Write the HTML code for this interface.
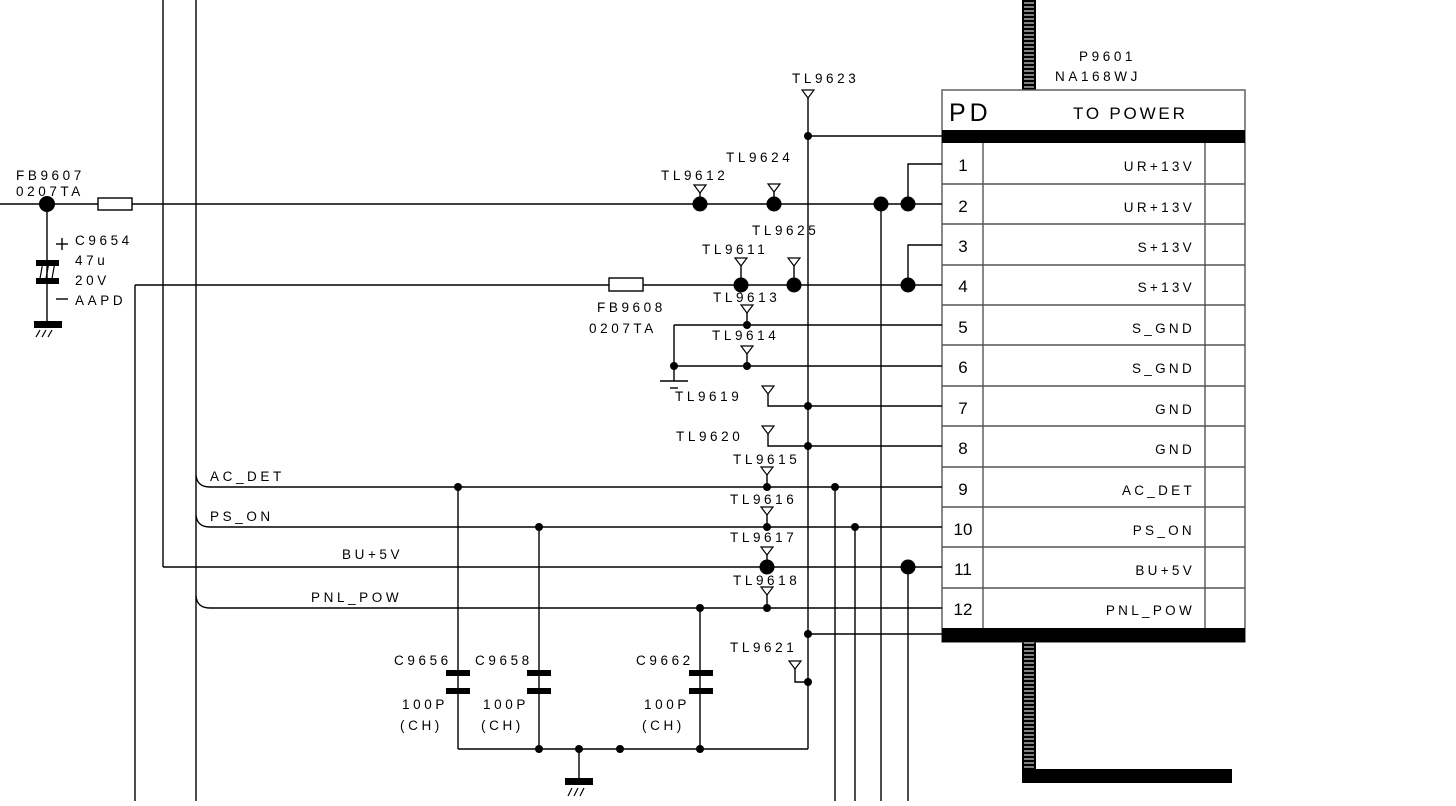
<!DOCTYPE html>
<html><head><meta charset="utf-8"><style>
html,body{margin:0;padding:0;background:#fff;}
svg text{font-family:"Liberation Sans",sans-serif;fill:#000;}
</style></head><body>
<svg width="1456" height="801" viewBox="0 0 1456 801" xmlns="http://www.w3.org/2000/svg">
<defs>
<pattern id="st" width="14" height="4" patternUnits="userSpaceOnUse">
<rect width="14" height="4" fill="#000"/><rect x="2" y="2.5" width="10" height="1" fill="#fff"/>
</pattern>
<g id="tp"><path d="M-6,0 L6,0 L0,8 Z" fill="#fff" stroke="#000" stroke-width="1.2"/></g>
</defs>
<g stroke="#000" stroke-width="1.4" fill="none">
<rect x="1022" y="0" width="14" height="90" fill="url(#st)" stroke="none"/>
<rect x="1022" y="642" width="14" height="140" fill="url(#st)" stroke="none"/>
<rect x="1022" y="769" width="210" height="14" fill="#000" stroke="none"/>
<rect x="942" y="90" width="303" height="552" fill="#fff" stroke="#555"/>
<rect x="942" y="130" width="303" height="13" fill="#000" stroke="none"/>
<rect x="942" y="628" width="303" height="14" fill="#000" stroke="none"/>
<g stroke="#555">
<line x1="983" y1="143" x2="983" y2="628"/>
<line x1="1205" y1="143" x2="1205" y2="628"/>
<line x1="942" y1="184" x2="1245" y2="184"/>
<line x1="942" y1="224" x2="1245" y2="224"/>
<line x1="942" y1="265" x2="1245" y2="265"/>
<line x1="942" y1="305" x2="1245" y2="305"/>
<line x1="942" y1="345" x2="1245" y2="345"/>
<line x1="942" y1="386" x2="1245" y2="386"/>
<line x1="942" y1="426" x2="1245" y2="426"/>
<line x1="942" y1="467" x2="1245" y2="467"/>
<line x1="942" y1="507" x2="1245" y2="507"/>
<line x1="942" y1="547" x2="1245" y2="547"/>
<line x1="942" y1="588" x2="1245" y2="588"/>
</g>
<line x1="0" y1="204" x2="942" y2="204"/>
<line x1="135" y1="285" x2="942" y2="285"/>
<line x1="135" y1="285" x2="135" y2="801"/>
<line x1="163" y1="0" x2="163" y2="567"/>
<line x1="163" y1="567" x2="942" y2="567"/>
<line x1="196" y1="0" x2="196" y2="801"/>
<path d="M196,475 Q197,487 210,487 L942,487"/>
<path d="M196,515 Q197,527 210,527 L942,527"/>
<path d="M196,596 Q197,608 210,608 L942,608"/>
<line x1="808" y1="95" x2="808" y2="749"/>
<line x1="808" y1="136" x2="942" y2="136"/>
<line x1="808" y1="634" x2="942" y2="634"/>
<line x1="835" y1="487" x2="835" y2="801"/>
<line x1="855" y1="527" x2="855" y2="801"/>
<line x1="881" y1="204" x2="881" y2="801"/>
<line x1="908" y1="567" x2="908" y2="801"/>
<path d="M908,204 L908,164 L942,164"/>
<path d="M908,285 L908,245 L942,245"/>
<line x1="674" y1="325" x2="942" y2="325"/>
<line x1="674" y1="366" x2="942" y2="366"/>
<line x1="674" y1="325" x2="674" y2="381"/>
<line x1="660" y1="381" x2="688" y2="381"/>
<line x1="670" y1="388" x2="678" y2="388"/>
<line x1="808" y1="406" x2="942" y2="406"/>
<line x1="808" y1="446" x2="942" y2="446"/>
<path d="M768,394 L768,406 L808,406"/>
<path d="M768,434 L768,446 L808,446"/>
<path d="M795,668 L795,682 L808,682"/>
<line x1="700" y1="190" x2="700" y2="204"/>
<line x1="774" y1="190" x2="774" y2="204"/>
<line x1="741" y1="262" x2="741" y2="285"/>
<line x1="794" y1="262" x2="794" y2="285"/>
<line x1="747" y1="310" x2="747" y2="325"/>
<line x1="747" y1="350" x2="747" y2="366"/>
<line x1="767" y1="472" x2="767" y2="487"/>
<line x1="767" y1="512" x2="767" y2="527"/>
<line x1="767" y1="552" x2="767" y2="567"/>
<line x1="767" y1="592" x2="767" y2="608"/>
<rect x="98" y="198" width="34" height="12" fill="#fff"/>
<rect x="609" y="278" width="34" height="13" fill="#fff"/>
<line x1="47" y1="204" x2="47" y2="325"/>
<line x1="56" y1="244" x2="68" y2="244"/><line x1="62" y1="238" x2="62" y2="250"/>
<line x1="56" y1="299" x2="68" y2="299"/>
<path d="M39,284 L43,262 M45,284 L49,262 M51,284 L55,262" stroke-width="1.2"/>
<path d="M36,337 L40,330 M42,337 L46,330 M48,337 L52,330" stroke-width="1.2"/>
<line x1="458" y1="487" x2="458" y2="749"/>
<line x1="539" y1="527" x2="539" y2="749"/>
<line x1="700" y1="608" x2="700" y2="749"/>
<line x1="458" y1="749" x2="808" y2="749"/>
<line x1="579" y1="749" x2="579" y2="779"/>
<path d="M568,796 L572,788 M574,796 L578,788 M580,796 L584,788" stroke-width="1.2"/>
</g>
<g fill="#000">
<rect x="36" y="260" width="23" height="6"/><rect x="36" y="278" width="23" height="6"/>
<rect x="34" y="321" width="28" height="7"/>
<rect x="446" y="670" width="24" height="6"/><rect x="446" y="688" width="24" height="6"/>
<rect x="527" y="670" width="24" height="6"/><rect x="527" y="688" width="24" height="6"/>
<rect x="689" y="670" width="24" height="6"/><rect x="689" y="688" width="24" height="6"/>
<rect x="565" y="778" width="28" height="7"/>
<circle cx="47" cy="204" r="8"/>
<circle cx="700" cy="204" r="7.5"/><circle cx="774" cy="204" r="7.5"/>
<circle cx="881" cy="204" r="7.5"/><circle cx="908" cy="204" r="7.5"/>
<circle cx="741" cy="285" r="7.5"/><circle cx="794" cy="285" r="7.5"/><circle cx="908" cy="285" r="7.5"/>
<circle cx="767" cy="567" r="7.5"/><circle cx="908" cy="567" r="7.5"/>
<circle cx="808" cy="136" r="4"/><circle cx="747" cy="325" r="4"/><circle cx="747" cy="366" r="4"/>
<circle cx="674" cy="366" r="4"/><circle cx="808" cy="406" r="4"/><circle cx="808" cy="446" r="4"/>
<circle cx="767" cy="487" r="4"/><circle cx="835" cy="487" r="4"/><circle cx="458" cy="487" r="4"/>
<circle cx="767" cy="527" r="4"/><circle cx="855" cy="527" r="4"/><circle cx="539" cy="527" r="4"/>
<circle cx="767" cy="608" r="4"/><circle cx="700" cy="608" r="4"/>
<circle cx="808" cy="634" r="4"/><circle cx="808" cy="682" r="4"/>
<circle cx="539" cy="749" r="4"/><circle cx="579" cy="749" r="4"/><circle cx="620" cy="749" r="4"/><circle cx="700" cy="749" r="4"/>
</g>
<use href="#tp" x="808" y="90"/>
<use href="#tp" x="700" y="185"/><use href="#tp" x="774" y="184"/>
<use href="#tp" x="741" y="258"/><use href="#tp" x="794" y="258"/>
<use href="#tp" x="747" y="305"/><use href="#tp" x="747" y="346"/>
<use href="#tp" x="768" y="386"/><use href="#tp" x="768" y="426"/>
<use href="#tp" x="767" y="467"/><use href="#tp" x="767" y="507"/>
<use href="#tp" x="767" y="547"/><use href="#tp" x="767" y="587"/>
<use href="#tp" x="795" y="661"/>
<g font-size="13.5" letter-spacing="3.6">
<text x="792" y="83">TL9623</text>
<text x="1079" y="61">P9601</text>
<text x="1055" y="81">NA168WJ</text>
<text x="726" y="162">TL9624</text>
<text x="661" y="180">TL9612</text>
<text x="752" y="235">TL9625</text>
<text x="702" y="254">TL9611</text>
<text x="713" y="302">TL9613</text>
<text x="712" y="340">TL9614</text>
<text x="675" y="401">TL9619</text>
<text x="676" y="441">TL9620</text>
<text x="733" y="464">TL9615</text>
<text x="730" y="504">TL9616</text>
<text x="730" y="542">TL9617</text>
<text x="733" y="585">TL9618</text>
<text x="730" y="652">TL9621</text>
<text x="16" y="180">FB9607</text>
<text x="16" y="196">0207TA</text>
<text x="75" y="245">C9654</text>
<text x="75" y="265">47u</text>
<text x="75" y="285">20V</text>
<text x="75" y="305">AAPD</text>
<text x="597" y="312">FB9608</text>
<text x="589" y="333">0207TA</text>
<text x="210" y="481">AC_DET</text>
<text x="210" y="521">PS_ON</text>
<text x="342" y="559">BU+5V</text>
<text x="311" y="602">PNL_POW</text>
<text x="394" y="665">C9656</text>
<text x="475" y="665">C9658</text>
<text x="636" y="665">C9662</text>
<text x="402" y="709">100P</text>
<text x="483" y="709">100P</text>
<text x="644" y="709">100P</text>
<text x="400" y="730">(CH)</text>
<text x="481" y="730">(CH)</text>
<text x="642" y="730">(CH)</text>
</g>
<text x="949" y="121" font-size="25" font-weight="300" letter-spacing="4">PD</text>
<text x="1073" y="119" font-size="17" letter-spacing="2.8">TO POWER</text>
<g font-size="17" text-anchor="middle">
<text x="963" y="171">1</text><text x="963" y="212">2</text><text x="963" y="252">3</text>
<text x="963" y="292">4</text><text x="963" y="333">5</text><text x="963" y="373">6</text>
<text x="963" y="414">7</text><text x="963" y="454">8</text><text x="963" y="495">9</text>
<text x="963" y="535">10</text><text x="963" y="575">11</text><text x="963" y="615">12</text>
</g>
<g font-size="13.5" text-anchor="end" letter-spacing="3.3">
<text x="1195" y="171">UR+13V</text><text x="1195" y="212">UR+13V</text>
<text x="1195" y="252">S+13V</text><text x="1195" y="292">S+13V</text>
<text x="1195" y="333">S_GND</text><text x="1195" y="373">S_GND</text>
<text x="1195" y="414">GND</text><text x="1195" y="454">GND</text>
<text x="1195" y="495">AC_DET</text><text x="1195" y="535">PS_ON</text>
<text x="1195" y="575">BU+5V</text><text x="1195" y="615">PNL_POW</text>
</g>
</svg>
</body></html>
